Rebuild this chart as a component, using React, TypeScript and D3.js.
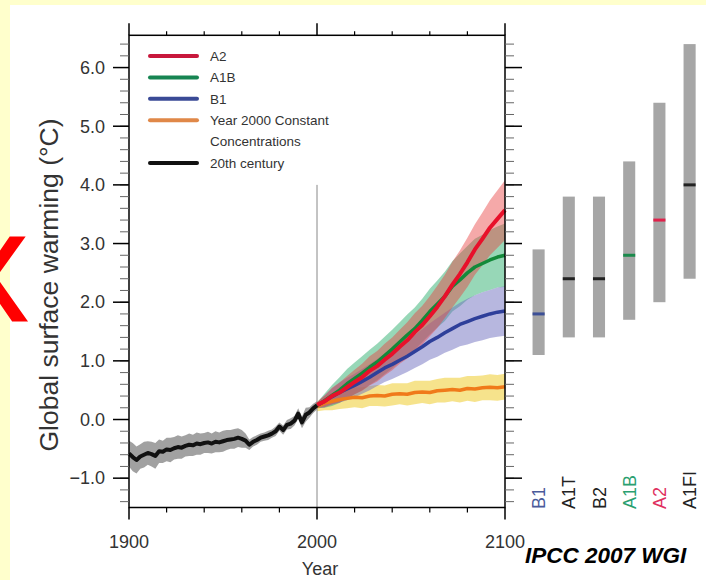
import React from 'react';
import * as d3 from 'd3';

// 20th century simulation, one value every 2 years from 1900
const histStart = 1900;
const histStep = 2;
const histMean = [
  -0.58, -0.64, -0.69, -0.63, -0.6, -0.57, -0.59, -0.62, -0.54, -0.55,
  -0.51, -0.52, -0.49, -0.47, -0.48, -0.45, -0.43, -0.44, -0.41, -0.42,
  -0.4, -0.39, -0.41, -0.38, -0.39, -0.37, -0.35, -0.34, -0.33, -0.31,
  -0.33, -0.36, -0.43, -0.38, -0.35, -0.31, -0.29, -0.27, -0.24, -0.2,
  -0.12, -0.18, -0.09, -0.07, -0.02, 0.1, -0.05, 0.08, 0.12, 0.19, 0.24,
];
const histSpread = [
  0.22, 0.24, 0.23, 0.21, 0.22, 0.2, 0.21, 0.22, 0.2, 0.19, 0.2, 0.21, 0.19, 0.2, 0.19, 0.18,
  0.19, 0.18, 0.19, 0.18, 0.17, 0.18, 0.17, 0.18, 0.17, 0.18, 0.17, 0.16, 0.17, 0.16, 0.15, 0.12,
  0.09, 0.08, 0.08, 0.07, 0.07, 0.08, 0.07, 0.08, 0.07, 0.08, 0.08, 0.09, 0.08, 0.09, 0.1, 0.12, 0.09, 0.08, 0.07,
];

// projections, one value every 4 years from 2000
const projStart = 2000;
const projStep = 4;
const a2Mean = [0.25, 0.31, 0.4, 0.46, 0.55, 0.64, 0.72, 0.83, 0.91, 1.02, 1.12, 1.24, 1.35, 1.49, 1.61, 1.76, 1.92, 2.1, 2.3, 2.48, 2.68, 2.9, 3.08, 3.27, 3.42, 3.57];
const a2Spread = [0.05, 0.1, 0.14, 0.17, 0.19, 0.21, 0.23, 0.25, 0.26, 0.27, 0.28, 0.29, 0.31, 0.32, 0.33, 0.34, 0.36, 0.37, 0.39, 0.4, 0.42, 0.43, 0.45, 0.47, 0.49, 0.51];
const a1bMean = [0.24, 0.32, 0.41, 0.5, 0.61, 0.7, 0.79, 0.89, 0.98, 1.09, 1.2, 1.32, 1.44, 1.55, 1.69, 1.84, 1.97, 2.1, 2.27, 2.38, 2.5, 2.6, 2.66, 2.72, 2.77, 2.8];
const a1bSpread = [0.05, 0.12, 0.18, 0.22, 0.25, 0.27, 0.29, 0.3, 0.31, 0.32, 0.33, 0.34, 0.35, 0.36, 0.37, 0.39, 0.4, 0.42, 0.43, 0.45, 0.46, 0.48, 0.49, 0.51, 0.52, 0.54];
const b1Mean = [0.24, 0.31, 0.39, 0.46, 0.52, 0.58, 0.65, 0.72, 0.8, 0.88, 0.94, 1.01, 1.08, 1.16, 1.24, 1.33, 1.4, 1.48, 1.55, 1.62, 1.67, 1.72, 1.76, 1.8, 1.83, 1.85];
const b1Spread = [0.05, 0.1, 0.14, 0.17, 0.19, 0.2, 0.21, 0.22, 0.23, 0.24, 0.25, 0.26, 0.27, 0.28, 0.3, 0.31, 0.33, 0.34, 0.36, 0.37, 0.39, 0.4, 0.41, 0.41, 0.42, 0.42];
const constMean = [0.22, 0.28, 0.31, 0.34, 0.36, 0.38, 0.37, 0.4, 0.41, 0.4, 0.43, 0.44, 0.43, 0.46, 0.47, 0.46, 0.49, 0.5, 0.51, 0.5, 0.53, 0.52, 0.54, 0.55, 0.54, 0.56];
const constSpread = [0.08, 0.12, 0.15, 0.16, 0.17, 0.17, 0.18, 0.17, 0.18, 0.18, 0.19, 0.18, 0.19, 0.2, 0.19, 0.2, 0.2, 0.21, 0.2, 0.21, 0.21, 0.22, 0.21, 0.22, 0.22, 0.22];

// likely ranges at 2090-2099
const scenarioNames = ['B1', 'A1T', 'B2', 'A1B', 'A2', 'A1FI'];
const scenarioLow = [1.1, 1.4, 1.4, 1.7, 2.0, 2.4];
const scenarioHigh = [2.9, 3.8, 3.8, 4.4, 5.4, 6.4];
const scenarioBest = [1.8, 2.4, 2.4, 2.8, 3.4, 4.0];

const legendItems = [
  { lines: ['A2'], color: '#c8183c' },
  { lines: ['A1B'], color: '#178552' },
  { lines: ['B1'], color: '#3a4a96' },
  { lines: ['Year 2000 Constant', 'Concentrations'], color: '#e08848' },
  { lines: ['20th century'], color: '#111' },
];

const FONT = '"Liberation Sans", Arial, sans-serif';

const toPoints = (start: number, step: number, mean: number[], spread: number[]) =>
  mean.map((m, i) => ({ year: start + i * step, m, s: spread[i] }));

export default function App() {
  const W = 706;
  const H = 580;
  const left = 129, right = 505, top = 35.3, bottom = 507.5;

  const x = d3.scaleLinear().domain([1900, 2100]).range([left, right]);
  const y = d3.scaleLinear().domain([-1.5, 6.55]).range([bottom, top]);
  const sx = d3.scaleBand<string>().domain(scenarioNames).range([523.5, 704.7]).paddingInner(0.6).paddingOuter(0.3);

  const line = d3.line<{ year: number; m: number; s: number }>().x((d) => x(d.year)).y((d) => y(d.m));
  const band = d3
    .area<{ year: number; m: number; s: number }>()
    .x((d) => x(d.year))
    .y0((d) => y(d.m - d.s))
    .y1((d) => y(d.m + d.s));

  const hist = toPoints(histStart, histStep, histMean, histSpread);
  const a2 = toPoints(projStart, projStep, a2Mean, a2Spread);
  const a1b = toPoints(projStart, projStep, a1bMean, a1bSpread);
  const b1 = toPoints(projStart, projStep, b1Mean, b1Spread);
  const cst = toPoints(projStart, projStep, constMean, constSpread);

  const majorY = d3.range(-1, 7);
  const minorY = d3.range(-14, 65, 2).map((d) => d / 10);
  const majorX = [1900, 2000, 2100];
  const minorX = [1920, 1940, 1960, 1980, 2020, 2040, 2060, 2080];

  const scenarioColor: Record<string, string> = {
    B1: '#3c4f96', A1T: '#222', B2: '#222', A1B: '#1a8a4c', A2: '#e0204a', A1FI: '#222',
  };
  const labelColor: Record<string, string> = {
    B1: '#4a5a9a', A1T: '#222', B2: '#222', A1B: '#2aa070', A2: '#e03060', A1FI: '#222',
  };

  let row = 0;

  return (
    <div style={{ position: 'fixed', left: 0, top: 0 }}>
      <svg width={W} height={H} style={{ display: 'block', fontFamily: FONT }}>
        <rect x={0} y={0} width={W} height={H} fill="#ffffcc" />
        <rect x={10} y={5} width={W - 10} height={H - 5} fill="#fff" />

        {/* decorative red cross, cut by the left edge as in the slide */}
        <text x={-12} y={320} fontSize={119} fill="#ff0000" stroke="#ff0000" strokeWidth={3} textAnchor="middle" fontFamily={FONT}>X</text>

        {/* bands */}
        <path d={band(hist) || ''} fill="#8a8a8a" opacity={0.8} />
        <path d={band(cst) || ''} fill="#f0d040" opacity={0.6} />
        <path d={band(a1b) || ''} fill="#30b070" opacity={0.5} />
        <path d={band(b1) || ''} fill="#7070c0" opacity={0.5} />
        <path d={band(a2) || ''} fill="#e84040" opacity={0.45} />

        {/* 2000 marker */}
        <line x1={x(2000)} x2={x(2000)} y1={y(4)} y2={bottom} stroke="#888" strokeWidth={1} />

        {/* lines */}
        <path d={line(cst) || ''} fill="none" stroke="#f07a1a" strokeWidth={3.5} strokeLinejoin="round" />
        <path d={line(b1) || ''} fill="none" stroke="#2e3f9a" strokeWidth={3.5} strokeLinejoin="round" />
        <path d={line(a1b) || ''} fill="none" stroke="#138a3a" strokeWidth={3.5} strokeLinejoin="round" />
        <path d={line(a2) || ''} fill="none" stroke="#e8102a" strokeWidth={4} strokeLinejoin="round" />
        <path d={line(hist) || ''} fill="none" stroke="#111" strokeWidth={4} strokeLinejoin="round" />

        {/* frame */}
        <rect x={left} y={top} width={right - left} height={bottom - top} fill="none" stroke="#000" strokeWidth={1.5} />

        {/* y ticks, both sides */}
        {minorY.map((v) => (
          <g key={'my' + v} stroke="#666" strokeWidth={1}>
            <line x1={left - 9} x2={left} y1={y(v)} y2={y(v)} />
            <line x1={right} x2={right + 9} y1={y(v)} y2={y(v)} />
          </g>
        ))}
        {majorY.map((v) => (
          <g key={'My' + v}>
            <line x1={left - 16} x2={left} y1={y(v)} y2={y(v)} stroke="#000" strokeWidth={1.5} />
            <line x1={right} x2={right + 17} y1={y(v)} y2={y(v)} stroke="#000" strokeWidth={1.5} />
            <text x={105} y={y(v)} dy="0.35em" textAnchor="end" fontSize={18} fill="#333">
              {v < 0 ? '\u2212' + Math.abs(v).toFixed(1) : v.toFixed(1)}
            </text>
          </g>
        ))}

        {/* x ticks, top and bottom */}
        {minorX.map((v) => (
          <g key={'mx' + v} stroke="#000" strokeWidth={1.2}>
            <line x1={x(v)} x2={x(v)} y1={top - 4} y2={top} />
            <line x1={x(v)} x2={x(v)} y1={bottom} y2={bottom + 5} />
          </g>
        ))}
        {majorX.map((v) => (
          <g key={'Mx' + v}>
            <line x1={x(v)} x2={x(v)} y1={top - 12} y2={top} stroke="#000" strokeWidth={1.5} />
            <line x1={x(v)} x2={x(v)} y1={bottom} y2={bottom + 12} stroke="#000" strokeWidth={1.5} />
            <text x={x(v)} y={548} textAnchor="middle" fontSize={18} fill="#333">{v}</text>
          </g>
        ))}

        <text x={320} y={575} textAnchor="middle" fontSize={18} fill="#333">Year</text>
        <text transform="translate(58,285) rotate(-90)" textAnchor="middle" fontSize={26.5} fill="#333">
          Global surface warming (°C)
        </text>

        {/* legend */}
        {legendItems.map((it) => {
          const ly = 56 + row * 21.4;
          row += it.lines.length;
          return (
            <g key={it.lines[0]}>
              <line x1={150} x2={197} y1={ly} y2={ly} stroke={it.color} strokeWidth={4} strokeLinecap="round" />
              {it.lines.map((t, j) => (
                <text key={t} x={210} y={ly + j * 21.4} dy="0.35em" fontSize={13.5} fill="#333">{t}</text>
              ))}
            </g>
          );
        })}

        {/* scenario ranges */}
        {scenarioNames.map((n, i) => {
          const cx = (sx(n) || 0) + sx.bandwidth() / 2;
          return (
            <g key={n}>
              <rect x={sx(n)} y={y(scenarioHigh[i])} width={sx.bandwidth()} height={y(scenarioLow[i]) - y(scenarioHigh[i])} fill="#a6a6a6" />
              <rect x={sx(n)} y={y(scenarioBest[i]) - 1.5} width={sx.bandwidth()} height={3} fill={scenarioColor[n]} />
              <text transform={`translate(${cx + 6.5},509) rotate(-90)`} fontSize={18} fill={labelColor[n]}>{n}</text>
            </g>
          );
        })}

        <text x={525} y={563} fontSize={22.5} fontWeight="bold" fontStyle="italic" fill="#000">IPCC 2007 WGI</text>
      </svg>
    </div>
  );
}
